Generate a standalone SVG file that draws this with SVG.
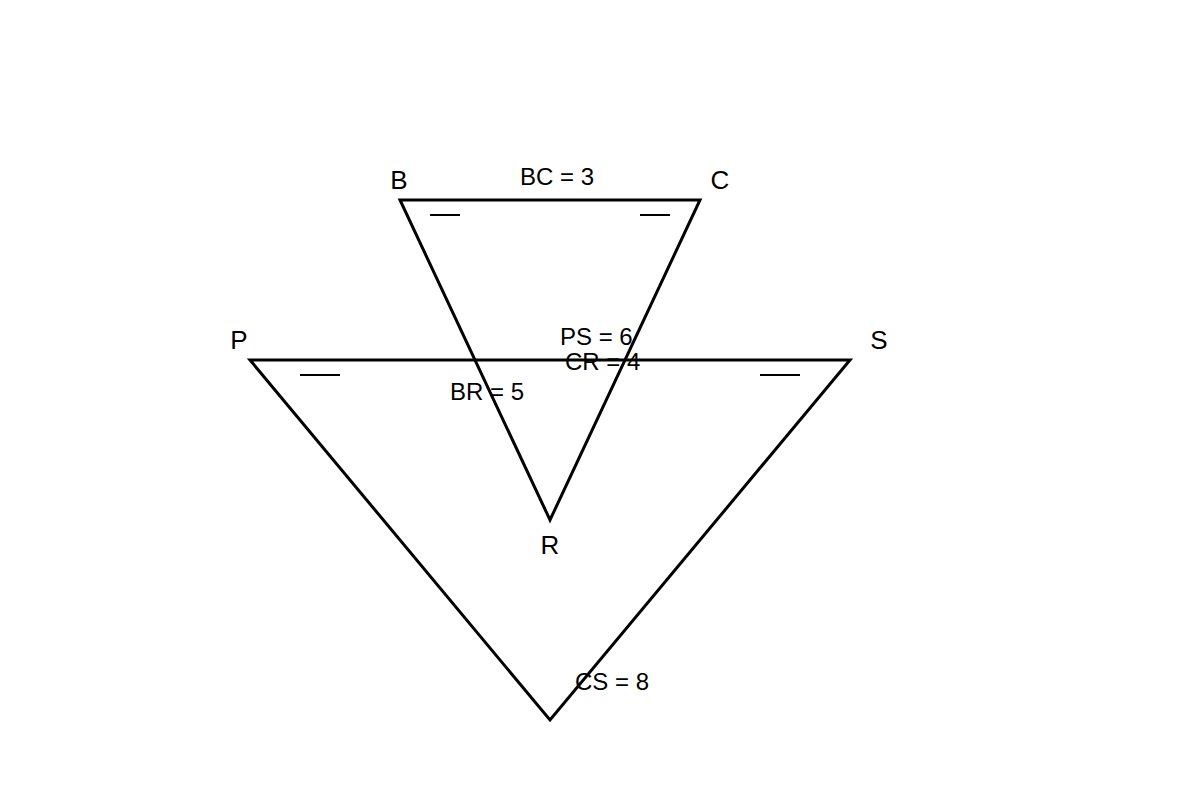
<svg xmlns="http://www.w3.org/2000/svg" width="1200" height="800" viewBox="0 0 1200 800">
<style>
.edge{fill:none;stroke:#000;stroke-width:3;stroke-linejoin:miter}
.tick{stroke:#000;stroke-width:2}
.v{font-family:"Liberation Sans",Arial,sans-serif;font-size:26px;fill:#000}
.l{font-family:"Liberation Sans",Arial,sans-serif;font-size:24px;fill:#000}
</style>
<rect width="1200" height="800" fill="#fff"/>
<g id="connectors">
<polygon class="edge" points="400,200 700,200 550,520"/>
<polygon class="edge" points="250,360 850,360 550,720"/>
<line class="tick" x1="430" y1="215" x2="460" y2="215"/>
<line class="tick" x1="640" y1="215" x2="670" y2="215"/>
<line class="tick" x1="300" y1="375" x2="340" y2="375"/>
<line class="tick" x1="760" y1="375" x2="800" y2="375"/>
</g>
<g id="node-B"><text class="v" x="399" y="189" text-anchor="middle">B</text></g>
<g id="node-C"><text class="v" x="720" y="189" text-anchor="middle">C</text></g>
<g id="node-R"><text class="v" x="550" y="554" text-anchor="middle">R</text></g>
<g id="node-P"><text class="v" x="239" y="349" text-anchor="middle">P</text></g>
<g id="node-S"><text class="v" x="879" y="349" text-anchor="middle">S</text></g>
<g id="labels">
<text class="l" x="520" y="185">BC = 3</text>
<text class="l" x="560" y="345">PS = 6</text>
<text class="l" x="565" y="370">CR = 4</text>
<text class="l" x="450" y="400">BR = 5</text>
<text class="l" x="575" y="690">CS = 8</text>
</g>
</svg>
